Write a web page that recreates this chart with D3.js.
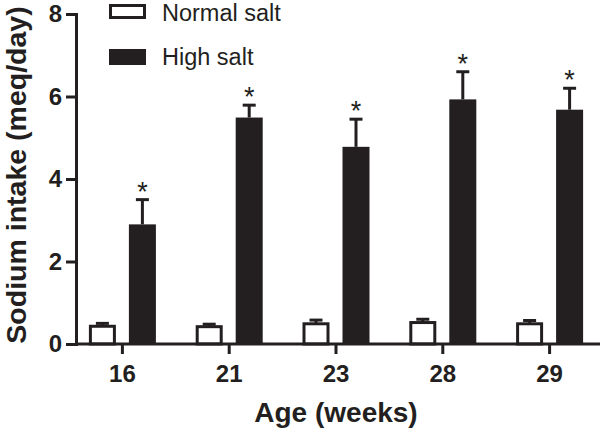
<!DOCTYPE html>
<html lang="en">
<head>
<meta charset="utf-8">
<title>Sodium intake</title>
<script src="https://d3js.org/d3.v7.min.js"></script>
<style>
  body { margin: 0; background: #fff; }
  svg { display: block; font-family: "Liberation Sans", Arial, sans-serif; }
  .axis path, .axis line { stroke: #231f20; stroke-width: 3; }
  .axis text { font-size: 24px; font-weight: bold; fill: #231f20; }
</style>
</head>
<body>
<svg class="chart"></svg>
<script>
// data
var ages = ["16", "21", "23", "28", "29"];
var series = ["Normal salt", "High salt"];
var normalMean = [0.43, 0.42, 0.49, 0.52, 0.49];
var normalErr  = [0.07, 0.06, 0.09, 0.08, 0.08];
var highMean   = [2.90, 5.49, 4.78, 5.93, 5.68];
var highErr    = [0.60, 0.30, 0.67, 0.67, 0.52];
var yTicks     = [0, 2, 4, 6, 8];

var rows = ages.map(function(a, i){
  return {age: a, vals: [
    {key: series[0], mean: normalMean[i], err: normalErr[i]},
    {key: series[1], mean: highMean[i], err: highErr[i]}
  ]};
});

//set up chart
var width = 600, height = 433;
var margin = {top: 14, right: 0, bottom: 89, left: 76};
var ink = "#231f20";

var svg = d3.select(".chart")
  .attr("width", width)
  .attr("height", height);

var x0 = d3.scaleBand()
  .domain(ages)
  .range([69, 603]);

var x1 = d3.scaleBand()
  .domain(series)
  .range([x0.bandwidth() / 2 - 33.5, x0.bandwidth() / 2 + 33.5])
  .paddingInner(0.325);

var y = d3.scaleLinear()
  .domain([0, 8])
  .range([height - margin.bottom, margin.top]);

//bars
var groups = svg.selectAll(".grp")
  .data(rows)
  .enter().append("g")
  .attr("class", "grp")
  .attr("transform", function(d){ return "translate(" + x0(d.age) + ",0)"; });

var bw = x1.bandwidth();

// error bars first (upper only)
groups.selectAll(".err")
  .data(function(d){ return d.vals; })
  .enter().append("g")
  .attr("class", "err")
  .each(function(d){
    var g = d3.select(this);
    var cx = x1(d.key) + bw / 2;
    g.append("line")
      .attr("x1", cx).attr("x2", cx)
      .attr("y1", y(d.mean)).attr("y2", y(d.mean + d.err))
      .attr("stroke", ink).attr("stroke-width", 3);
    g.append("line")
      .attr("x1", cx - 6.5).attr("x2", cx + 6.5)
      .attr("y1", y(d.mean + d.err)).attr("y2", y(d.mean + d.err))
      .attr("stroke", ink).attr("stroke-width", 3);
  });

groups.selectAll(".bar")
  .data(function(d){ return d.vals; })
  .enter().append("rect")
  .attr("class", "bar")
  .each(function(d){
    var r = d3.select(this);
    if (d.key === series[0]) {
      r.attr("x", x1(d.key) + 1.5)
       .attr("width", bw - 3)
       .attr("y", y(d.mean))
       .attr("height", y(0) - y(d.mean))
       .attr("fill", "#fff")
       .attr("stroke", ink)
       .attr("stroke-width", 3);
    } else {
      r.attr("x", x1(d.key))
       .attr("width", bw)
       .attr("y", y(d.mean))
       .attr("height", y(0) - y(d.mean))
       .attr("fill", ink);
    }
  });

// significance stars
groups.append("text")
  .attr("x", function(){ return x1(series[1]) + bw / 2; })
  .attr("y", function(d){ return y(d.vals[1].mean + d.vals[1].err) + 1; })
  .attr("text-anchor", "middle")
  .style("font-size", "27px")
  .style("fill", ink)
  .text("*");

//left axis
var yAxis = svg.append("g")
  .attr("class", "axis")
  .attr("transform", "translate(" + margin.left + ",0)")
  .call(d3.axisLeft(y).tickValues(yTicks).tickSize(10).tickSizeOuter(0).tickPadding(4));
yAxis.select(".domain").attr("stroke-linecap", "square");

//bottom axis
var xAxis = svg.append("g")
  .attr("class", "axis")
  .attr("transform", "translate(0," + y(0) + ")")
  .call(d3.axisBottom(x0).tickSize(10).tickSizeOuter(0).tickPadding(11));
xAxis.select(".domain").attr("d", "M" + margin.left + ",0H" + width);

//axis titles
svg.append("text")
  .attr("transform", "translate(26," + (y(4) - 4) + ") rotate(-90)")
  .attr("text-anchor", "middle")
  .style("font-size", "28.5px")
  .style("font-weight", "bold")
  .style("fill", ink)
  .text("Sodium intake (meq/day)");

svg.append("text")
  .attr("x", x0("23") + x0.bandwidth() / 2)
  .attr("y", 422)
  .attr("text-anchor", "middle")
  .style("font-size", "28px")
  .style("font-weight", "bold")
  .style("fill", ink)
  .text("Age (weeks)");

//legend
var legend = svg.append("g").attr("transform", "translate(109,0)");
legend.append("rect")
  .attr("x", 1.5).attr("y", 5.5).attr("width", 34).attr("height", 12)
  .attr("fill", "#fff").attr("stroke", ink).attr("stroke-width", 3);
legend.append("rect")
  .attr("x", 0).attr("y", 49).attr("width", 37).attr("height", 16)
  .attr("fill", ink);
legend.selectAll(".ltxt")
  .data(series)
  .enter().append("text")
  .attr("class", "ltxt")
  .attr("x", 53)
  .attr("y", function(d, i){ return 21 + i * 44; })
  .style("font-size", "23.5px")
  .style("fill", ink)
  .text(function(d){ return d; });
</script>
</body>
</html>
